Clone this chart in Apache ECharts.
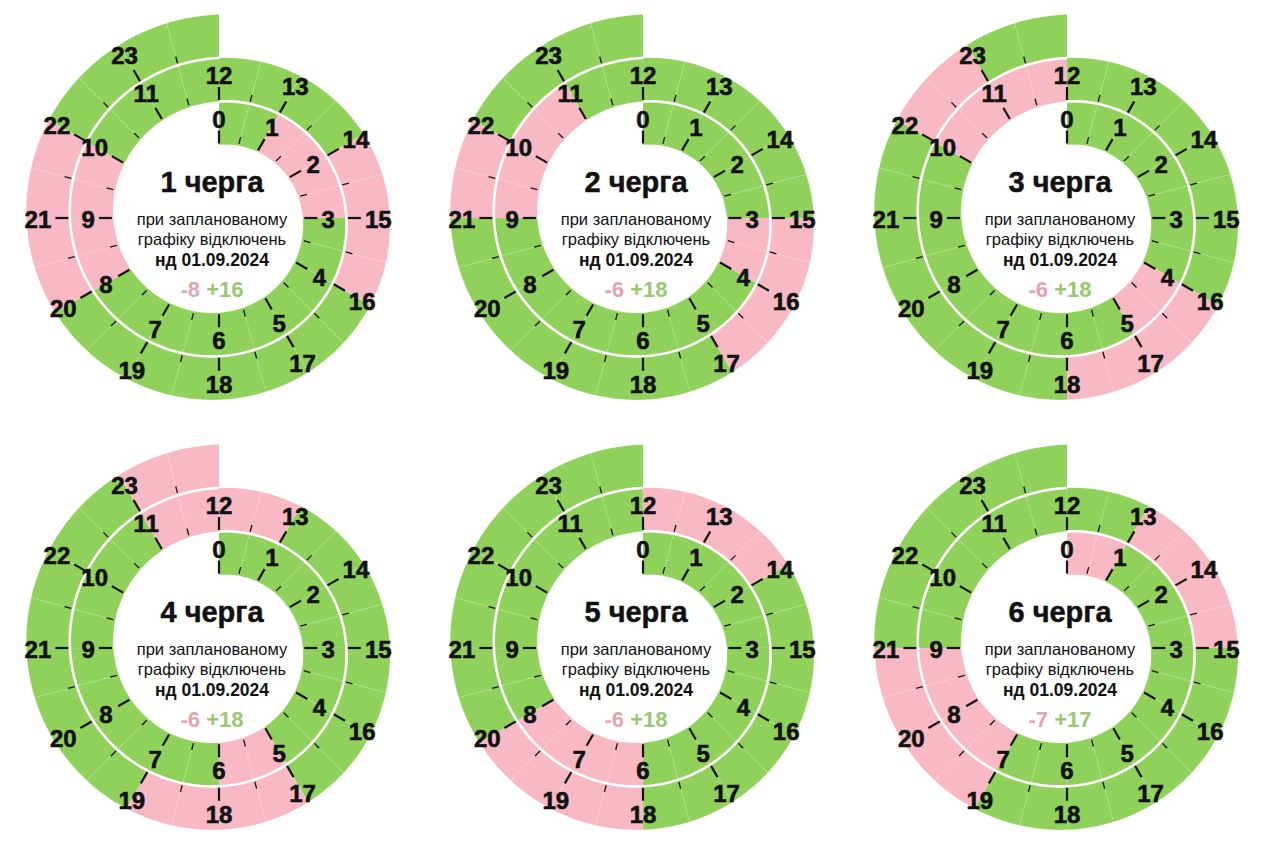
<!DOCTYPE html>
<html>
<head>
<meta charset="utf-8">
<script src="https://cdn.jsdelivr.net/npm/echarts@6/dist/echarts.min.js"></script>
<style>
html,body{margin:0;padding:0;background:#ffffff;}
#chart{width:1280px;height:853px;}
</style>
</head>
<body>
<div id="chart"></div>
<script>
// ---------- data ----------
const hourLabels = ['0','1','2','3','4','5','6','7','8','9','10','11','12','13','14','15','16','17','18','19','20','21','22','23'];
const queueNames = ['1 черга','2 черга','3 черга','4 черга','5 черга','6 черга'];
const subtitleLine1 = 'при запланованому';
const subtitleLine2 = 'графіку відключень';
const dateLabel = 'нд 01.09.2024';
// hours (start of hour) with planned outage
const queue1Off = [1, 2, 8, 9, 14, 15, 20, 21];
const queue2Off = [3, 9, 10, 15, 16, 21];
const queue3Off = [4, 10, 11, 16, 17, 22];
const queue4Off = [5, 11, 12, 17, 18, 23];
const queue5Off = [6, 7, 12, 13, 18, 19];
const queue6Off = [0, 7, 8, 13, 14, 19, 20];
const queuesOff = [queue1Off, queue2Off, queue3Off, queue4Off, queue5Off, queue6Off];

// ---------- styling / geometry ----------
const GREEN = '#8fd15b';
const PINK = '#f8b8c4';
const TXT_PINK = '#e4a3b1';
const TXT_GREEN = '#97c873';
const FAMILY = '"Liberation Sans", Arial, sans-serif';
const R0 = 73;      // inner radius of spiral at hour 0
const W = 43.5;     // band width = spiral pitch per 12 hours
const RMAX = 240;
const centersX = [219, 643, 1067];
const centersY = [218, 648];

function rIn(t) { return R0 + W * t / 12; }
function ang(t) { return t - 12 * Math.floor(t / 12); }

function segRender(params, api) {
  const t0 = api.value(0);
  const off = api.value(1);
  const t1 = t0 + 0.5;
  const N = 8;
  const pts = [];
  for (let k = 0; k <= N; k++) {
    const t = t0 + (t1 - t0) * k / N;
    pts.push(api.coord([rIn(t), ang(t)]));
  }
  for (let k = N; k >= 0; k--) {
    const t = t0 + (t1 - t0) * k / N;
    pts.push(api.coord([rIn(t) + W, ang(t)]));
  }
  return {
    type: 'polygon',
    shape: { points: pts },
    style: { fill: off ? PINK : GREEN, stroke: 'rgba(255,255,255,0.12)', lineWidth: 0.8 }
  };
}

function sepRender(params, api) {
  const pts = [];
  for (let k = 0; k <= 240; k++) {
    const t = 12 * k / 240;
    pts.push(api.coord([R0 + W + W * t / 12, t]));
  }
  return {
    type: 'polyline',
    shape: { points: pts },
    style: { stroke: '#ffffff', lineWidth: 2.6, fill: null }
  };
}

function hourRender(params, api) {
  const h = api.value(0);
  const a = ang(h);
  const ri = rIn(h);
  const c = api.coord([0, 0]);
  const p1 = api.coord([ri + 1.5, a]);
  const p2 = api.coord([ri + 14.5, a]);
  const dx = p2[0] - c[0], dy = p2[1] - c[1];
  const L = Math.hypot(dx, dy);
  const ux = dx / L, uy = dy / L;
  const text = hourLabels[h];
  const tw = 13.4 * text.length, th = 17;
  const off = 4 + (tw * Math.abs(ux) + th * Math.abs(uy)) / 2;
  const lx = p2[0] + ux * off, ly = p2[1] + uy * off;
  const hh = h + 0.5;
  const rh = rIn(hh);
  const q1 = api.coord([rh + 2, ang(hh)]);
  const q2 = api.coord([rh + 9, ang(hh)]);
  return {
    type: 'group',
    children: [
      { type: 'line', shape: { x1: p1[0], y1: p1[1], x2: p2[0], y2: p2[1] },
        style: { stroke: '#151515', lineWidth: 2.2 } },
      { type: 'line', shape: { x1: q1[0], y1: q1[1], x2: q2[0], y2: q2[1] },
        style: { stroke: '#151515', lineWidth: 1.3 } },
      { type: 'text', style: { text: text, x: lx, y: ly + 1, align: 'center', verticalAlign: 'middle',
        fontSize: 24, fontWeight: 'bold', fontFamily: FAMILY, fill: '#111111',
        stroke: '#111111', lineWidth: 0.6 } }
    ]
  };
}

// ---------- build option ----------
const polar = [], angleAxis = [], radiusAxis = [], series = [], graphics = [];
function txt(x, y, text, size, weight, extra) {
  const st = { text: text, align: 'center', verticalAlign: 'middle', fontSize: size, fontWeight: weight, fontFamily: FAMILY, fill: '#111111' };
  if (extra) Object.assign(st, extra);
  return { type: 'text', x: x, y: y, style: st };
}
queuesOff.forEach(function (offHours, i) {
  const cx = centersX[i % 3], cy = centersY[Math.floor(i / 3)];
  polar.push({ center: [cx, cy], radius: RMAX });
  angleAxis.push({ polarIndex: i, type: 'value', min: 0, max: 12, startAngle: 90, clockwise: true, show: false });
  radiusAxis.push({ polarIndex: i, type: 'value', min: 0, max: RMAX, show: false });

  const segData = [];
  for (let s = 0; s < 48; s++) {
    const t = s / 2;
    segData.push([t, offHours.indexOf(Math.floor(t)) >= 0 ? 1 : 0]);
  }
  series.push({ type: 'custom', coordinateSystem: 'polar', polarIndex: i, renderItem: segRender, data: segData, silent: true, z: 1 });
  series.push({ type: 'custom', coordinateSystem: 'polar', polarIndex: i, renderItem: sepRender, data: [[0, 0]], silent: true, z: 2 });
  series.push({ type: 'custom', coordinateSystem: 'polar', polarIndex: i, renderItem: hourRender,
    data: hourLabels.map(function (l, h) { return [h, 0]; }), silent: true, z: 3 });

  const offCount = offHours.length;
  const onCount = 24 - offCount;
  const tx = cx - 7;
  graphics.push(
    txt(tx, cy - 36, queueNames[i], 29, 'bold', { stroke: '#111111', lineWidth: 0.5 }),
    txt(tx, cy + 1, subtitleLine1, 16.5, 'normal'),
    txt(tx, cy + 21, subtitleLine2, 16.5, 'normal'),
    txt(tx, cy + 42, dateLabel, 17.5, 'bold'),
    txt(tx, cy + 71, '{a|-' + offCount + '} {b|+' + onCount + '}', 22, 'bold', {
      rich: {
        a: { fill: TXT_PINK, fontSize: 22, fontWeight: 'bold', fontFamily: FAMILY },
        b: { fill: TXT_GREEN, fontSize: 22, fontWeight: 'bold', fontFamily: FAMILY }
      }
    })
  );
});

const chart = echarts.init(document.getElementById('chart'), null, { renderer: 'svg' });
chart.setOption({
  backgroundColor: '#ffffff',
  animation: false,
  polar: polar,
  angleAxis: angleAxis,
  radiusAxis: radiusAxis,
  series: series,
  graphic: { elements: graphics }
});
</script>
</body>
</html>
